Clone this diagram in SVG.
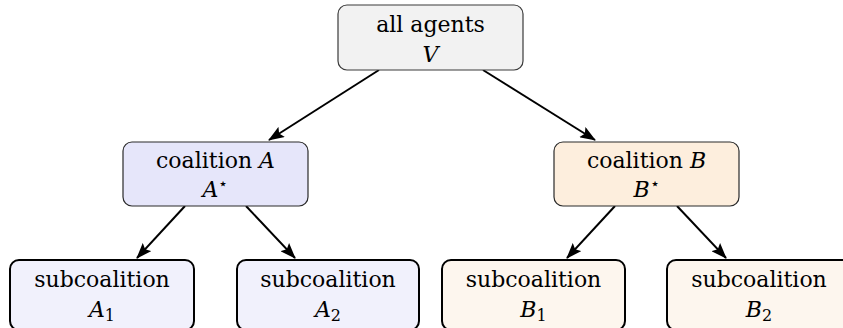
<svg xmlns="http://www.w3.org/2000/svg" width="843" height="328" viewBox="0 0 843 328">
<style>
  text { font-family: "DejaVu Serif", serif; font-size: 22px; fill: #000; text-anchor: middle; }
  .m { font-style: italic; }
  .top { fill: #f2f2f2; stroke: #3a3a3a; stroke-width: 1.2; }
  .ca { fill: #e6e6fa; stroke: #2a2a2a; stroke-width: 1.2; }
  .cb { fill: #fdeedd; stroke: #2a2a2a; stroke-width: 1.2; }
  .sa { fill: #f1f1fc; stroke: #000; stroke-width: 2; }
  .sb { fill: #fdf6ee; stroke: #000; stroke-width: 2; }
  .edge { stroke: #000; stroke-width: 2; fill: none; marker-end: url(#arr); }
  .st { font-size: 16px; }
  .sub { font-size: 16px; }
</style>
<defs>
  <marker id="arr" viewBox="0 0 16 12" refX="15" refY="6" markerWidth="16" markerHeight="12" markerUnits="userSpaceOnUse" orient="auto">
    <path d="M0,0 L16,6 L0,12 L3,6 Z" fill="#000"/>
  </marker>
</defs>
<g id="connectors">
  <line class="edge" x1="379" y1="70" x2="269" y2="140"/>
  <line class="edge" x1="483" y1="70" x2="595" y2="140"/>
  <line class="edge" x1="185" y1="206" x2="137" y2="258"/>
  <line class="edge" x1="246" y1="206" x2="295" y2="258"/>
  <line class="edge" x1="615" y1="206" x2="567" y2="258"/>
  <line class="edge" x1="677" y1="206" x2="726" y2="258"/>
</g>
<g id="root">
  <rect class="top" x="338" y="5" width="185" height="65" rx="9"/>
  <text x="430.5" y="32">all agents</text>
  <text x="430.5" y="62" class="m">V</text>
</g>
<g id="coalitionA">
  <rect class="ca" x="123" y="142" width="185" height="64" rx="9"/>
  <text x="215.5" y="168">coalition <tspan class="m">A</tspan></text>
  <text x="215.5" y="197"><tspan class="m">A</tspan><tspan class="st" dy="-8">⋆</tspan></text>
</g>
<g id="coalitionB">
  <rect class="cb" x="554" y="142" width="185" height="64" rx="9"/>
  <text x="646.5" y="168">coalition <tspan class="m">B</tspan></text>
  <text x="646.5" y="197"><tspan class="m">B</tspan><tspan class="st" dy="-8">⋆</tspan></text>
</g>
<g id="subA1">
  <rect class="sa" x="10" y="260" width="184" height="70" rx="9"/>
  <text x="102" y="287">subcoalition</text>
  <text x="102" y="317"><tspan class="m">A</tspan><tspan class="sub" dy="4">1</tspan></text>
</g>
<g id="subA2">
  <rect class="sa" x="237" y="260" width="182" height="70" rx="9"/>
  <text x="328" y="287">subcoalition</text>
  <text x="328" y="317"><tspan class="m">A</tspan><tspan class="sub" dy="4">2</tspan></text>
</g>
<g id="subB1">
  <rect class="sb" x="442" y="260" width="183" height="70" rx="9"/>
  <text x="533.5" y="287">subcoalition</text>
  <text x="533.5" y="317"><tspan class="m">B</tspan><tspan class="sub" dy="4">1</tspan></text>
</g>
<g id="subB2">
  <rect class="sb" x="667" y="260" width="184" height="70" rx="9"/>
  <text x="759" y="287">subcoalition</text>
  <text x="759" y="317"><tspan class="m">B</tspan><tspan class="sub" dy="4">2</tspan></text>
</g>
</svg>
